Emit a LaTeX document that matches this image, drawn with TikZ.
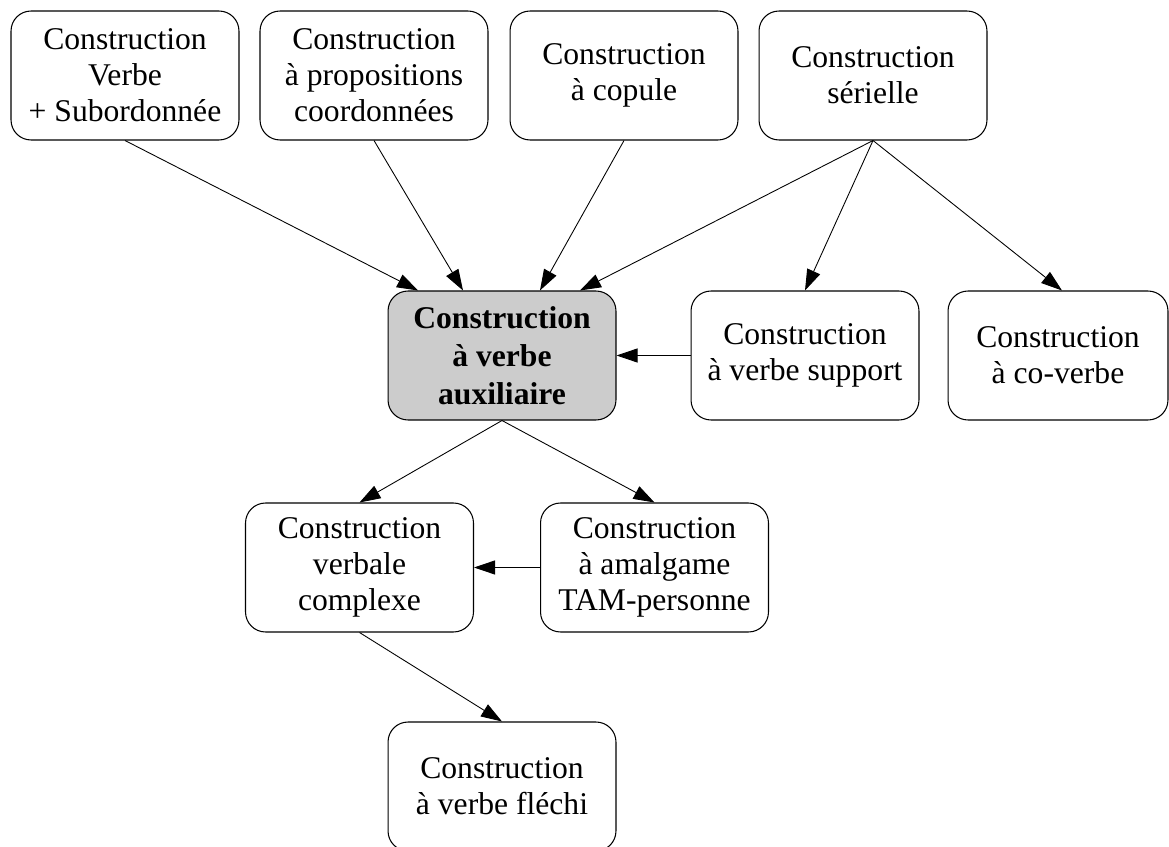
\documentclass[tikz,border=0pt]{standalone}
\usepackage{fontspec}
\setmainfont{Liberation Serif}
\usetikzlibrary{arrows.meta}
\tikzset{
    box/.style={draw, rounded corners=0.4cm, minimum width=4.56cm, minimum height=2.58cm, align=center, inner sep=2pt, line width=0.6pt, font=\fontsize{18}{20.5}\selectfont}, % boîte arrondie
    main box/.style={box, fill=black!20, font=\fontsize{18}{21.5}\selectfont\bfseries}, % boîte centrale
    link/.style={-{Triangle[length=0.42cm, width=0.28cm]}, line width=0.5pt} % flèche
}

\begin{document}
\begin{tikzpicture}[x=0.02cm, y=-0.02cm]
    \useasboundingbox (0,0) rectangle (1169,847);

    % rangée du haut
    \node[box] (verbsub) at (125,75.5) {Construction\\Verbe\\+ Subordonnée};
    \node[box] (coord) at (374,75.5) {Construction\\à propositions\\coordonnées};
    \node[box] (copule) at (624,75.5) {Construction\\à copule};
    \node[box] (serielle) at (873,75.5) {Construction\\sérielle};

    % rangée du milieu
    \node[main box] (aux) at (502,355.5) {Construction\\à verbe\\auxiliaire};
    \node[box] (support) at (805,355.5) {Construction\\à verbe support};
    \node[box, minimum width=4.4cm] (coverbe) at (1058,355.5) {Construction\\à co-verbe};

    % rangées du bas
    \node[box] (complexe) at (359.5,567.5) {Construction\\verbale\\complexe};
    \node[box] (amalgame) at (654.5,567.5) {Construction\\à amalgame\\TAM-personne};
    \node[box] (flechi) at (502,786.5) {Construction\\à verbe fléchi};

    \draw[link] (verbsub.south) -- ([xshift=-1.68cm]aux.north);
    \draw[link] (coord.south) -- ([xshift=-0.78cm]aux.north);
    \draw[link] (copule.south) -- ([xshift=0.76cm]aux.north);
    \draw[link] (serielle.south) -- ([xshift=1.56cm]aux.north);
    \draw[link] (serielle.south) -- (support.north);
    \draw[link] (serielle.south) -- ([xshift=0.08cm]coverbe.north);
    \draw[link] (support.west) -- (aux.east);
    \draw[link] (aux.south) -- (complexe.north);
    \draw[link] (aux.south) -- (amalgame.north);
    \draw[link] (amalgame.west) -- (complexe.east);
    \draw[link] (complexe.south) -- (flechi.north);
\end{tikzpicture}
\end{document}
